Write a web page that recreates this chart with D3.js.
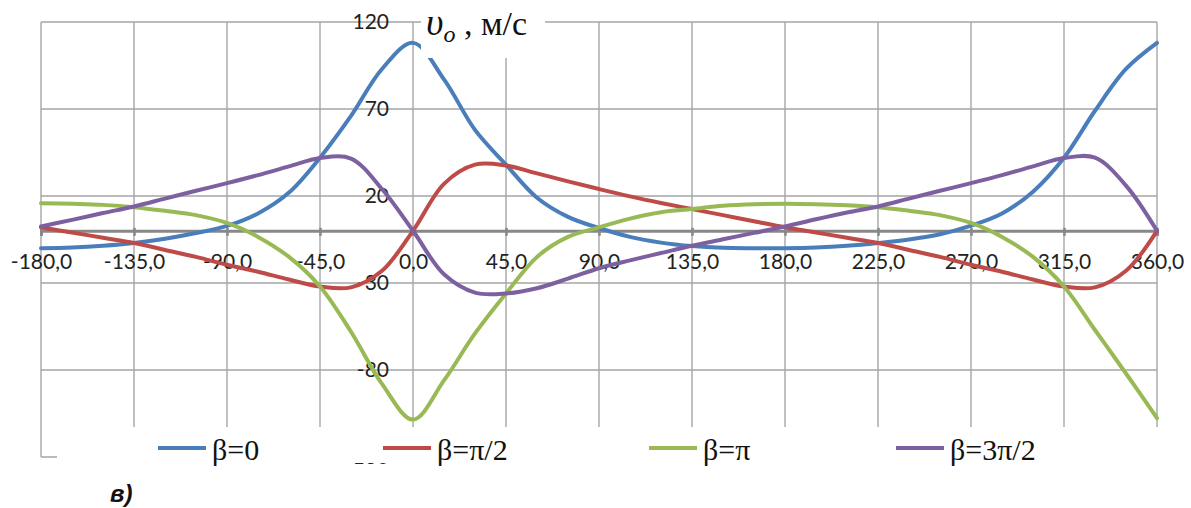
<!DOCTYPE html>
<html>
<head>
<meta charset="utf-8">
<script src="https://cdn.jsdelivr.net/npm/d3@7"></script>
<style>
  body { margin: 0; background: #fff; }
  svg { display: block; }
</style>
</head>
<body>
<svg id="chart"></svg>
<script>
const width = 1191;
const height = 508;

// angle, degrees
const angles = [-180, -165, -150, -135, -120, -105, -90, -75, -60, -45, -30, -15, 0,
    15, 30, 45, 60, 75, 90, 105, 120, 135, 150, 165, 180,
    195, 210, 225, 240, 255, 270, 285, 300, 315, 330, 345, 360];

// velocity, m/s
const beta0 = [-10, -9.6, -8.6, -7, -4.6, -1.3, 2.8, 10, 22, 42, 66, 93, 108,
    87, 58, 38, 19, 8, 1.6, -3.5, -6.8, -8.8, -9.8, -10, -10,
    -9.6, -8.6, -7, -5, -2, 3, 10, 22.5, 42, 69, 93, 108];
const betaHalfPi = [2, -1, -4, -7, -11, -15, -19.5, -23.5, -28, -32, -32.5, -23, 0,
    27, 38, 37.5, 33, 28.4, 24, 19.8, 16, 12.5, 9, 5.5, 2,
    -1, -4, -7, -11, -15, -19.5, -23.5, -28, -32, -32.5, -23, 0];
const betaPi = [15.9, 15.5, 14.9, 13.6, 11.5, 9, 4.5, -3.5, -15, -32, -58, -88, -108.5,
    -86, -59, -36, -15, -3.5, 2, 7, 10.7, 12.5, 14.4, 15.3, 15.5,
    15.3, 14.7, 13.6, 11.5, 9, 4.5, -3.5, -15, -32, -57, -82, -107.7];
const beta3HalfPi = [2.5, 6.3, 10.2, 14, 18.5, 23, 27.4, 32, 37, 41.8, 41.5, 24, 0,
    -25, -35.5, -36, -33, -27.5, -21.5, -17, -12.8, -8.6, -4.9, -1.2, 2.5,
    6.6, 10.5, 14, 18.5, 23, 27.4, 32, 37, 41.8, 42, 26, 0];

const seriesNames = ["β=0", "β=π/2", "β=π", "β=3π/2"];
const seriesColors = ["#4a7ebb", "#be4b48", "#98b954", "#7d60a0"];
const seriesValues = [beta0, betaHalfPi, betaPi, beta3HalfPi];

const xTicks = [-180, -135, -90, -45, 0, 45, 90, 135, 180, 225, 270, 315, 360];
const yTicks = [-130, -80, -30, 20, 70, 120];

const svg = d3.select("#chart").attr("width", width).attr("height", height);
svg.append("rect").attr("width", width).attr("height", height).attr("fill", "#fff");

const xScale = d3.scaleLinear().domain([-180, 360]).range([41, 1157]);
const yScale = d3.scaleLinear().domain([-130, 120]).range([457, 22]);

const gridColor = "#a5a5a5";
const labelFont = "Lato, 'Open Sans', sans-serif";
const serifFont = "'Liberation Serif', 'Times New Roman', 'DejaVu Serif', serif";

// grid
svg.append("g").selectAll("line").data(xTicks).enter()
    .append("line")
    .attr("x1", d => xScale(d)).attr("x2", d => xScale(d))
    .attr("y1", yScale(120)).attr("y2", yScale(-130))
    .attr("stroke", gridColor).attr("stroke-width", 1.4);

svg.append("g").selectAll("line").data(yTicks).enter()
    .append("line")
    .attr("x1", xScale(-180)).attr("x2", xScale(360))
    .attr("y1", d => yScale(d)).attr("y2", d => yScale(d))
    .attr("stroke", gridColor).attr("stroke-width", 1.4);

// horizontal axis at zero
const xAxis = d3.axisBottom(xScale)
    .tickValues(xTicks)
    .tickSize(5)
    .tickFormat(d => d.toFixed(1).replace(".", ","));

const xAxisG = svg.append("g")
    .attr("transform", "translate(0," + yScale(0) + ")")
    .call(xAxis);
xAxisG.select(".domain").attr("stroke", "#888").attr("stroke-width", 3);
xAxisG.selectAll(".tick line").attr("stroke", "#888").attr("stroke-width", 2.5)
    .attr("y1", -3).attr("y2", 5);
xAxisG.selectAll(".tick text")
    .attr("y", 38).attr("dy", null)
    .attr("fill", "#222")
    .attr("font-family", labelFont)
    .attr("font-size", 21);

// vertical axis labels along x = 0
const yAxis = d3.axisLeft(yScale).tickValues(yTicks).tickSize(0).tickPadding(24)
    .tickFormat(d => String(d));
const yAxisG = svg.append("g")
    .attr("transform", "translate(" + xScale(0) + ",0)")
    .call(yAxis);
yAxisG.select(".domain").remove();
yAxisG.selectAll(".tick text")
    .attr("fill", "#222")
    .attr("font-family", labelFont)
    .attr("font-size", 21);

// series
const line = d3.line()
    .x((d, i) => xScale(angles[i]))
    .y(d => yScale(d))
    .curve(d3.curveCatmullRom.alpha(0.5));

svg.append("g").selectAll("path").data(seriesValues).enter()
    .append("path")
    .attr("d", d => line(d))
    .attr("fill", "none")
    .attr("stroke", (d, i) => seriesColors[i])
    .attr("stroke-width", 4)
    .attr("stroke-linejoin", "round")
    .attr("stroke-linecap", "round");

// axis title box
svg.append("rect")
    .attr("x", 421).attr("y", 0).attr("width", 124).attr("height", 58)
    .attr("fill", "#fff");
const title = svg.append("text")
    .attr("x", 426).attr("y", 35)
    .attr("font-family", serifFont)
    .attr("fill", "#111");
title.append("tspan").text("υ").attr("font-style", "italic").attr("font-size", 38);
title.append("tspan").text("o").attr("font-style", "italic").attr("font-size", 24)
    .attr("dy", 7);
title.append("tspan").text(" , м/с").attr("font-size", 34).attr("dy", -7);

// legend
const legendLineX = [158, 383, 649, 896];
svg.append("rect")
    .attr("x", 57).attr("y", 427).attr("width", width - 57).attr("height", 36)
    .attr("fill", "#fff");

const legend = svg.append("g").selectAll("g").data(seriesNames).enter().append("g")
    .attr("transform", (d, i) => "translate(" + legendLineX[i] + ",448)");
legend.append("line")
    .attr("x1", 0).attr("x2", 48)
    .attr("stroke", (d, i) => seriesColors[i])
    .attr("stroke-width", 4);
legend.append("text")
    .attr("x", 54).attr("y", 12)
    .attr("font-family", serifFont)
    .attr("font-size", 30)
    .attr("fill", "#111")
    .text(d => d);

// panel caption
svg.append("text")
    .attr("x", 110).attr("y", 502)
    .attr("font-family", "'Liberation Sans', Arial, sans-serif")
    .attr("font-size", 24)
    .attr("font-weight", "bold")
    .attr("font-style", "italic")
    .attr("fill", "#111")
    .text("в)");
</script>
</body>
</html>
